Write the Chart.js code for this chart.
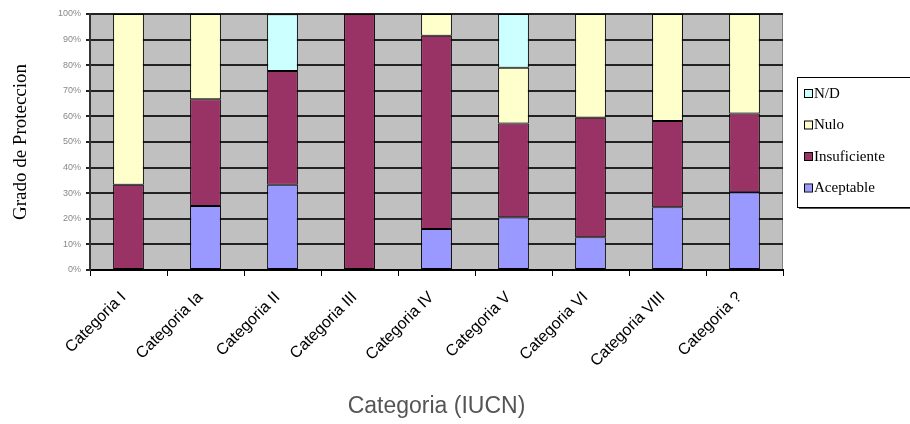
<!DOCTYPE html>
<html>
<head>
<meta charset="utf-8">
<script src="https://cdn.jsdelivr.net/npm/chart.js@4"></script>
<style>
  html, body { margin: 0; padding: 0; background: #fff; overflow: hidden; }
  #chart { display: block; }
</style>
</head>
<body>
<canvas id="chart" width="910" height="424"></canvas>
<script>
// ================================================
// DATOS
// ================================================

const categories = ['Categoria I', 'Categoria Ia', 'Categoria II', 'Categoria III', 'Categoria IV',
                    'Categoria V', 'Categoria VI', 'Categoria VIII', 'Categoria ?'];

// porcentajes por categoria (cada columna suma 100)
const aceptable    = [0, 25, 33.3, 0, 16, 20.6, 12.8, 24.5, 30.4];
const insuficiente = [33.3, 41.7, 44.4, 100, 75.5, 36.6, 46.7, 33.7, 30.7];
const nulo         = [66.7, 33.3, 0, 0, 8.5, 21.8, 40.5, 41.8, 38.9];
const noDato       = [0, 0, 22.2, 0, 0, 21.0, 0, 0, 0];

const yTicks = [0, 10, 20, 30, 40, 50, 60, 70, 80, 90, 100];

// ================================================
// PLUGINS
// ================================================

// fondo gris del area de trazado
const plotBackground = {
    id: 'plotBackground',
    beforeDraw(chart) {
        const { ctx, chartArea: a } = chart;
        ctx.save();
        ctx.fillStyle = '#C0C0C0';
        ctx.fillRect(a.left, a.top, a.right - a.left, a.bottom - a.top);
        ctx.strokeStyle = '#808080';
        ctx.lineWidth = 1;
        ctx.strokeRect(a.left + 0.5, a.top + 0.5, a.right - a.left - 1, a.bottom - a.top - 1);
        ctx.restore();
    }
};

// leyenda con marco y sombra, orden invertido como en Excel
const boxLegend = {
    id: 'boxLegend',
    afterDraw(chart) {
        const ctx = chart.ctx;
        const x = 797, y = 77, w = 125, h = 130;
        ctx.save();
        ctx.fillStyle = '#555';
        ctx.fillRect(x + 2, y + 2, w, h);
        ctx.fillStyle = '#fff';
        ctx.fillRect(x, y, w, h);
        ctx.strokeStyle = '#000';
        ctx.lineWidth = 1;
        ctx.strokeRect(x + 0.5, y + 0.5, w, h);

        ctx.font = '15px "Liberation Serif", "Times New Roman", serif';
        ctx.textBaseline = 'middle';
        const items = chart.data.datasets.slice().reverse();
        items.forEach((ds, i) => {
            const cy = y + 17 + i * 31.5;
            ctx.fillStyle = ds.backgroundColor;
            ctx.fillRect(x + 8, cy - 4, 7, 7);
            ctx.strokeStyle = '#000';
            ctx.strokeRect(x + 7.5, cy - 4.5, 8, 8);
            ctx.fillStyle = '#000';
            ctx.fillText(ds.label, x + 17, cy);
        });
        ctx.restore();
    }
};

// ================================================
// GRAFICO
// ================================================

const ctx = document.getElementById('chart');

new Chart(ctx, {
    type: 'bar',
    data: {
        labels: categories,
        datasets: [
            { label: 'Aceptable',    data: aceptable,    backgroundColor: '#9999FF' },
            { label: 'Insuficiente', data: insuficiente, backgroundColor: '#993366' },
            { label: 'Nulo',         data: nulo,         backgroundColor: '#FFFFCC' },
            { label: 'N/D',          data: noDato,       backgroundColor: '#CCFFFF' }
        ].map(ds => Object.assign(ds, {
            borderColor: '#000',
            // sin borde en los segmentos vacios
            borderWidth: c => (c.raw ? 1 : 0),
            borderSkipped: false,
            barPercentage: 0.4,
            categoryPercentage: 1
        }))
    },
    options: {
        responsive: false,
        animation: false,
        layout: {
            padding: { left: 8, top: 14, right: 127, bottom: 0 }
        },
        plugins: {
            legend: { display: false },
            tooltip: { enabled: false }
        },
        scales: {
            x: {
                stacked: true,
                afterFit(scale) { scale.height = 154; },
                grid: {
                    drawOnChartArea: false,
                    drawTicks: true,
                    tickLength: 6,
                    color: '#000',
                    lineWidth: 1
                },
                border: { color: '#000', width: 2 },
                ticks: {
                    minRotation: 45,
                    maxRotation: 45,
                    labelOffset: -5,
                    padding: 12,
                    color: '#000',
                    font: { family: '"Liberation Sans", Arial, sans-serif', size: 16 }
                },
                title: {
                    display: true,
                    text: 'Categoria (IUCN)',
                    color: '#555',
                    padding: { top: 4, bottom: 4 },
                    font: { family: '"Liberation Sans", Arial, sans-serif', size: 23 }
                }
            },
            y: {
                stacked: true,
                min: 0,
                max: 100,
                afterFit(scale) { scale.width = 82; },
                afterBuildTicks(scale) {
                    scale.ticks = yTicks.map(v => ({ value: v }));
                },
                grid: {
                    color: '#222',
                    lineWidth: 2,
                    tickLength: 4
                },
                border: { color: '#333', width: 2 },
                ticks: {
                    color: '#888',
                    padding: 5,
                    font: { family: '"Liberation Sans", Arial, sans-serif', size: 9 },
                    callback: v => v + '%'
                },
                title: {
                    display: true,
                    text: 'Grado de Proteccion',
                    color: '#000',
                    padding: { top: 2, bottom: 0 },
                    font: { family: '"Liberation Serif", "Times New Roman", serif', size: 19 }
                }
            }
        }
    },
    plugins: [plotBackground, boxLegend]
});
</script>
</body>
</html>
